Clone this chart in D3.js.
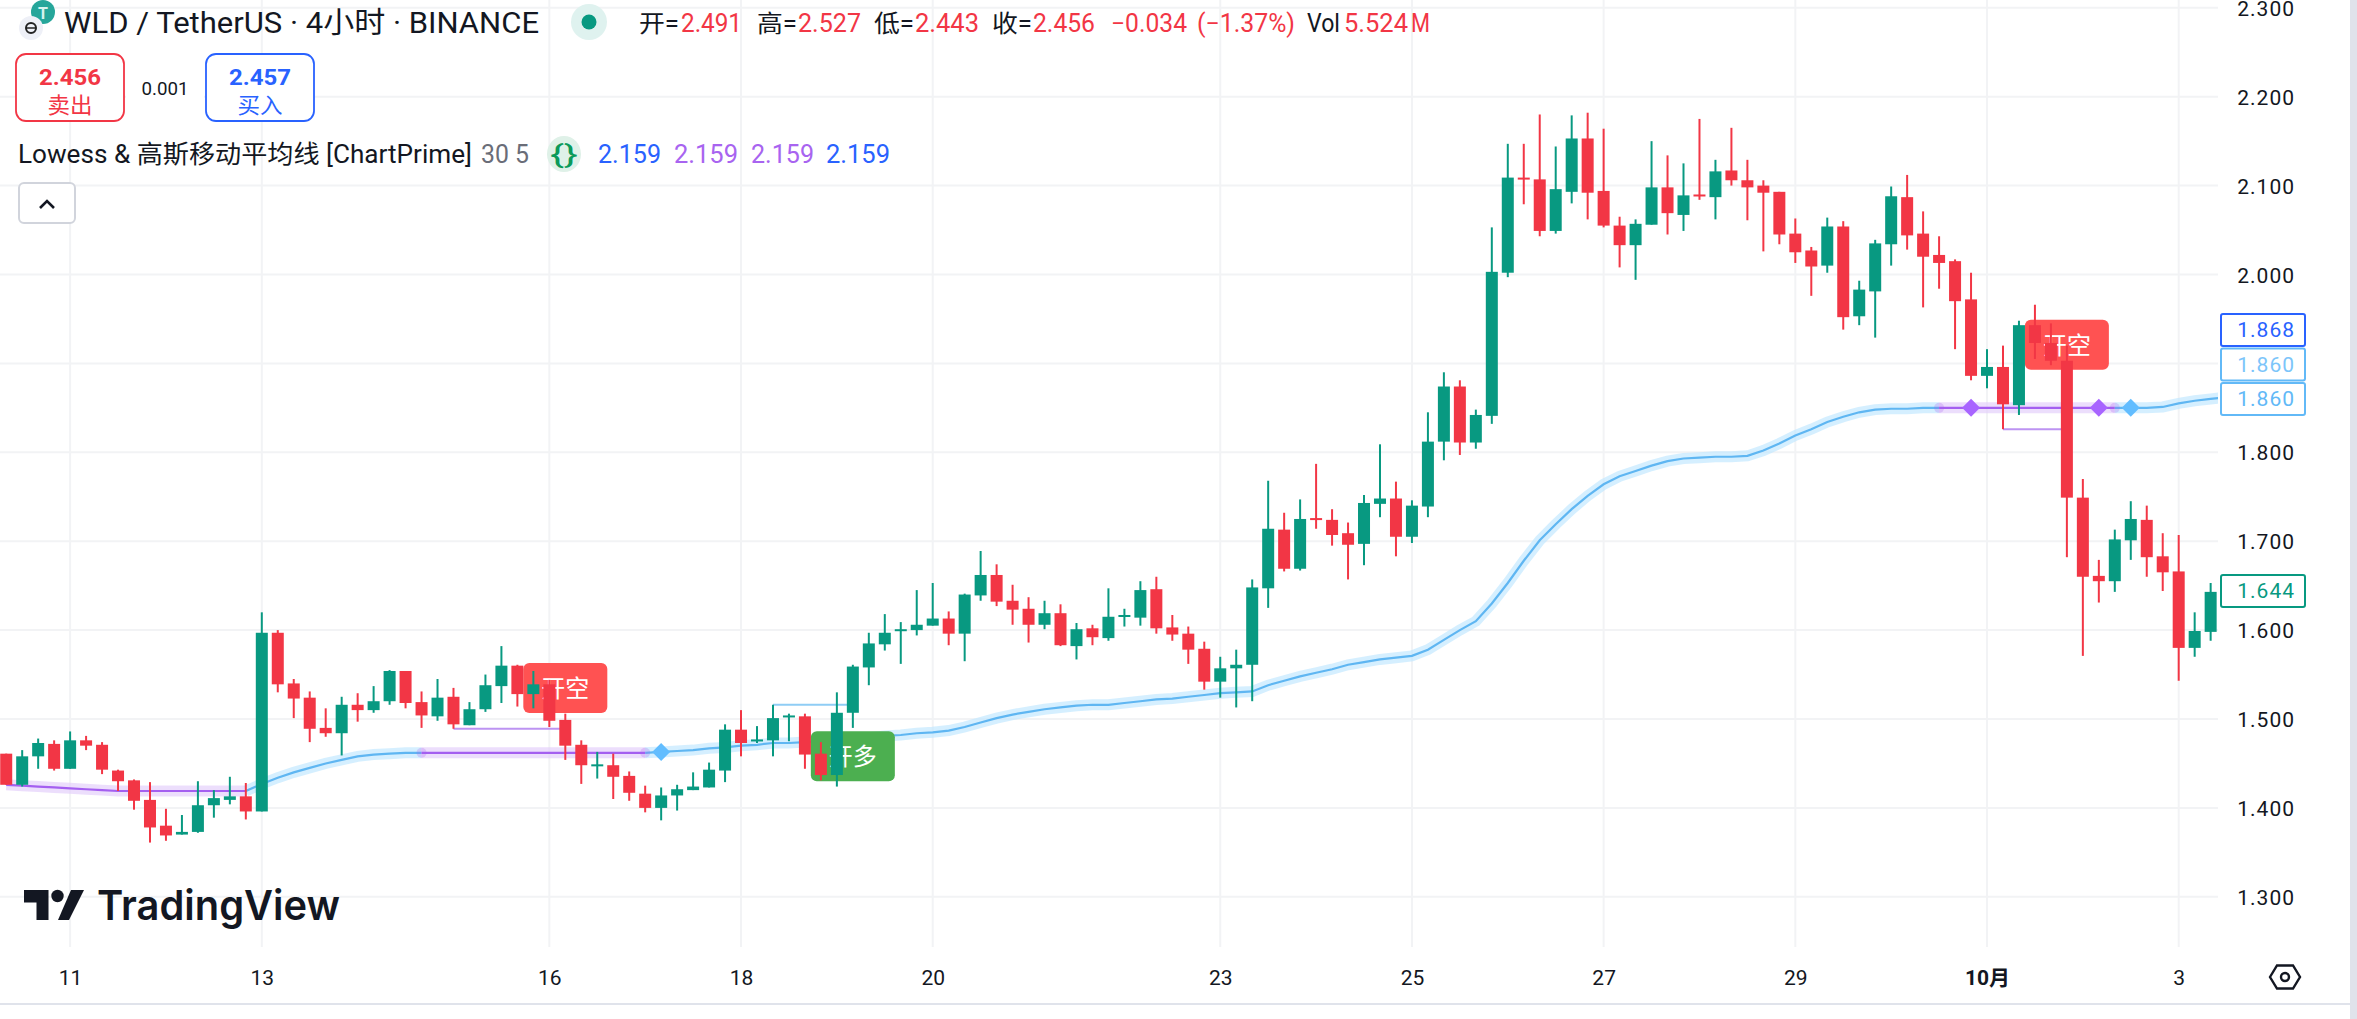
<!DOCTYPE html>
<html>
<head>
<meta charset="utf-8">
<title>WLD / TetherUS 4小时</title>
<script src="https://d3js.org/d3.v7.min.js"></script>
<style>
    html, body { margin: 0; padding: 0; background: #fff; overflow: hidden; }
    svg { display: block; }
    text { font-family: Roboto, "Noto Sans CJK SC", sans-serif; }
    .axis-text text { fill: #131722; font-size: 21px; letter-spacing: 1px; }
</style>
</head>
<body>
<svg width="2357" height="1019"></svg>
<script>
// candles, 4h bars, bar 0 = the 13th 00:00
var firstBar = -16;
var opens = [
    1.461,1.426,1.458,1.472,1.444,1.476,1.471,1.442,1.431,1.409,
    1.380,1.370,1.373,1.403,1.409,1.413,1.396,1.597,1.540,1.524,
    1.490,1.484,1.516,1.510,1.520,1.554,1.519,1.503,1.525,1.493,
    1.511,1.537,1.560,1.528,1.539,1.499,1.471,1.448,1.448,1.436,
    1.416,1.400,1.414,1.420,1.423,1.442,1.488,1.475,1.476,1.502,
    1.503,1.461,1.437,1.507,1.558,1.584,1.599,1.600,1.605,1.613,
    1.596,1.639,1.662,1.633,1.624,1.606,1.619,1.582,1.602,1.591,
    1.615,1.614,1.646,1.603,1.596,1.579,1.542,1.557,1.561,1.647,
    1.713,1.669,1.726,1.724,1.709,1.697,1.742,1.748,1.705,1.739,
    1.812,1.874,1.811,1.841,2.002,2.109,2.107,2.049,2.093,2.153,
    2.094,2.055,2.033,2.056,2.098,2.067,2.090,2.087,2.117,2.106,
    2.100,2.093,2.046,2.027,2.010,2.054,1.953,1.981,2.034,2.087,
    2.046,2.022,2.015,1.972,1.886,1.896,1.853,1.943,1.923,1.903,
    1.749,1.661,1.655,1.701,1.724,1.683,1.666,1.580,1.598
];
var closes = [
    1.426,1.458,1.473,1.444,1.476,1.470,1.443,1.430,1.408,1.378,
    1.369,1.373,1.403,1.411,1.413,1.396,1.597,1.539,1.523,1.489,
    1.484,1.516,1.510,1.520,1.554,1.518,1.504,1.524,1.494,1.511,
    1.538,1.560,1.528,1.539,1.498,1.470,1.448,1.449,1.435,1.417,
    1.400,1.414,1.421,1.424,1.443,1.488,1.473,1.477,1.501,1.504,
    1.460,1.437,1.507,1.559,1.585,1.597,1.601,1.606,1.613,1.596,
    1.640,1.662,1.632,1.623,1.606,1.619,1.583,1.601,1.592,1.615,
    1.617,1.645,1.602,1.595,1.578,1.542,1.557,1.561,1.648,1.714,
    1.669,1.725,1.725,1.707,1.696,1.743,1.748,1.705,1.740,1.812,
    1.874,1.811,1.842,2.003,2.109,2.107,2.049,2.096,2.153,2.092,
    2.055,2.033,2.057,2.098,2.069,2.089,2.088,2.116,2.106,2.098,
    2.092,2.045,2.025,2.009,2.054,1.952,1.983,2.035,2.088,2.044,
    2.020,2.013,1.970,1.886,1.896,1.854,1.943,1.923,1.903,1.749,
    1.660,1.655,1.702,1.725,1.682,1.665,1.580,1.599,1.643
];
var highs = [
    1.461,1.465,1.478,1.476,1.486,1.481,1.474,1.443,1.432,1.429,
    1.399,1.392,1.430,1.420,1.435,1.428,1.620,1.600,1.545,1.531,
    1.512,1.525,1.529,1.537,1.555,1.554,1.531,1.545,1.535,1.519,
    1.550,1.582,1.561,1.554,1.544,1.506,1.476,1.463,1.461,1.441,
    1.425,1.423,1.426,1.440,1.451,1.494,1.510,1.492,1.516,1.506,
    1.506,1.474,1.530,1.561,1.597,1.618,1.609,1.645,1.653,1.621,
    1.641,1.689,1.674,1.651,1.637,1.633,1.629,1.608,1.606,1.647,
    1.624,1.655,1.660,1.617,1.604,1.587,1.570,1.578,1.657,1.768,
    1.732,1.747,1.787,1.736,1.721,1.752,1.809,1.767,1.746,1.845,
    1.890,1.881,1.848,2.053,2.147,2.147,2.180,2.144,2.179,2.182,
    2.164,2.065,2.062,2.150,2.134,2.125,2.175,2.129,2.165,2.129,
    2.106,2.093,2.063,2.031,2.064,2.060,1.993,2.039,2.099,2.112,
    2.071,2.043,2.017,2.002,1.916,1.920,1.948,1.966,1.945,1.920,
    1.770,1.679,1.713,1.745,1.740,1.709,1.707,1.620,1.653
];
var lows = [
    1.426,1.424,1.444,1.442,1.444,1.465,1.438,1.419,1.398,1.361,
    1.363,1.370,1.372,1.389,1.404,1.387,1.396,1.530,1.501,1.474,
    1.480,1.459,1.497,1.507,1.516,1.512,1.490,1.498,1.489,1.493,
    1.508,1.518,1.514,1.512,1.491,1.454,1.427,1.433,1.410,1.408,
    1.395,1.386,1.397,1.420,1.423,1.429,1.458,1.473,1.458,1.475,
    1.444,1.431,1.424,1.490,1.538,1.577,1.562,1.594,1.605,1.583,
    1.565,1.633,1.627,1.606,1.586,1.601,1.582,1.567,1.583,1.588,
    1.604,1.605,1.596,1.588,1.562,1.533,1.524,1.513,1.520,1.625,
    1.666,1.667,1.714,1.695,1.657,1.673,1.727,1.683,1.698,1.727,
    1.791,1.797,1.804,1.832,1.997,2.079,2.043,2.046,2.080,2.062,
    2.053,2.008,1.994,2.056,2.045,2.049,2.084,2.062,2.100,2.061,
    2.026,2.034,2.013,1.976,2.002,1.938,1.943,1.929,2.010,2.028,
    1.963,1.984,1.916,1.881,1.872,1.826,1.842,1.905,1.898,1.682,
    1.571,1.631,1.643,1.679,1.660,1.644,1.543,1.570,1.588
];
// Lowess / gaussian average, one value per bar from firstBar on
var maValues = [
    1.426,1.425,1.424,1.423,1.422,1.421,1.420,1.419,1.419,1.419,
    1.419,1.419,1.419,1.419,1.419,1.419,1.427,1.434,1.440,1.445,
    1.450,1.454,1.458,1.460,1.461,1.462,1.462,1.462,1.462,1.462,
    1.462,1.462,1.462,1.462,1.462,1.462,1.462,1.462,1.462,1.462,
    1.462,1.463,1.464,1.465,1.467,1.468,1.470,1.471,1.473,1.473,
    1.474,1.475,1.476,1.478,1.479,1.481,1.482,1.484,1.485,1.487,
    1.491,1.496,1.501,1.505,1.508,1.511,1.513,1.515,1.516,1.516,
    1.518,1.520,1.522,1.523,1.525,1.527,1.529,1.530,1.531,1.538,
    1.543,1.548,1.552,1.556,1.561,1.564,1.567,1.569,1.571,1.578,
    1.589,1.600,1.610,1.630,1.653,1.678,1.701,1.719,1.736,1.751,
    1.764,1.773,1.779,1.785,1.790,1.793,1.794,1.795,1.795,1.796,
    1.802,1.810,1.819,1.826,1.834,1.840,1.845,1.848,1.849,1.849,
    1.850,1.850,1.850,1.850,1.850,1.850,1.850,1.850,1.850,1.850,
    1.850,1.850,1.850,1.850,1.850,1.851,1.855,1.858,1.860,1.862
];
// bar ranges where the average turns purple / blue
var maSegments = [
    {from: -16, to: -1, kind: "down"},
    {from: -1, to: 10, kind: "up"},
    {from: 10, to: 24, kind: "down"},
    {from: 24, to: 105, kind: "up"},
    {from: 105, to: 116, kind: "down"},
    {from: 116, to: 123, kind: "up"}
];
var dotMarks = [[0, 1.427, "up"], [10, 1.462, "down"], [24, 1.462, "down"], [105, 1.850, "down"], [113, 1.850, "up"], [116, 1.850, "down"]];
var diamondMarks = [[25, 1.463, "up"], [107, 1.850, "down"], [115, 1.850, "down"], [117, 1.850, "up"]];
var brackets = [[12, 19, 1.489, "down"], [32, 37, 1.516, "up"], [109, 113, 1.826, "down"]];
var signalBars = [19, 37, 113];
var signalPrices = [1.535, 1.458, 1.921];
var signalTexts = ["开空", "开多", "开空"];
var signalColors = ["#ff5252", "#4caf50", "#ff5252"];

var priceTicks = [1.3, 1.4, 1.5, 1.6, 1.7, 1.8, 1.9, 2.0, 2.1, 2.2, 2.3];
var timeTicks = [-12, 0, 18, 30, 42, 60, 72, 84, 96, 108, 120];
var timeLabels = ["11", "13", "16", "18", "20", "23", "25", "27", "29", "10月", "3"];

var width = 2357, plotRight = 2218, plotBottom = 947;
var green = "#089981", red = "#f23645", blue = "#2962ff";
var kindLine = {up: "#5fb6f2", down: "#a45ff0"};
var kindGlow = {up: "#bfe6ff", down: "#e2cdfb"};
var kindDiamond = {up: "#62bdff", down: "#a864ff"};

var svg = d3.select("svg");
var bars = d3.range(firstBar, firstBar + opens.length);

var x = d3.scaleLinear().domain([0, 120]).range([261.8, 2178.7]);
var y = d3.scaleLinear().domain([1.3, 2.3]).range([896.8, 7.8]);

svg.append("defs").append("clipPath").attr("id", "plot")
    .append("rect").attr("width", plotRight).attr("height", plotBottom);

// grid
svg.append("g").selectAll("line").data(priceTicks).enter().append("line")
    .attr("x1", 0).attr("x2", plotRight)
    .attr("y1", function (d) { return y(d); }).attr("y2", function (d) { return y(d); })
    .attr("stroke", "#f2f3f5").attr("stroke-width", 2);
svg.append("g").selectAll("line").data(timeTicks).enter().append("line")
    .attr("x1", function (d) { return x(d); }).attr("x2", function (d) { return x(d); })
    .attr("y1", 0).attr("y2", plotBottom)
    .attr("stroke", "#f2f3f5").attr("stroke-width", 2);

var plot = svg.append("g").attr("clip-path", "url(#plot)");

// moving average, glow under thin line
var maLine = d3.line()
    .x(function (d) { return x(d); })
    .y(function (d) { return y(maValues[d - firstBar]); });

maSegments.forEach(function (s) {
    plot.append("path").datum(d3.range(s.from, s.to + 1))
        .attr("d", maLine).attr("fill", "none")
        .attr("stroke", kindGlow[s.kind]).attr("stroke-opacity", 0.65).attr("stroke-width", 11);
});
maSegments.forEach(function (s) {
    plot.append("path").datum(d3.range(s.from, s.to + 1))
        .attr("d", maLine).attr("fill", "none")
        .attr("stroke", kindLine[s.kind]).attr("stroke-width", 2.2);
});

plot.selectAll(".dot").data(dotMarks).enter().append("circle")
    .attr("class", "dot")
    .attr("cx", function (d) { return x(d[0]); })
    .attr("cy", function (d) { return y(d[1]); })
    .attr("r", 5)
    .attr("fill", function (d) { return kindLine[d[2]]; })
    .attr("opacity", 0.25);

plot.selectAll(".bracket").data(brackets).enter().append("line")
    .attr("class", "bracket")
    .attr("x1", function (d) { return x(d[0]); })
    .attr("x2", function (d) { return x(d[1]); })
    .attr("y1", function (d) { return y(d[2]); })
    .attr("y2", function (d) { return y(d[2]); })
    .attr("stroke", function (d) { return d[3] == "up" ? "#8fcdf5" : "#bd93f2"; })
    .attr("stroke-width", 2);

plot.selectAll(".diamond").data(diamondMarks).enter().append("path")
    .attr("class", "diamond")
    .attr("d", "M0,-9L9,0L0,9L-9,0Z")
    .attr("transform", function (d) { return "translate(" + x(d[0]) + "," + y(d[1]) + ")"; })
    .attr("fill", function (d) { return kindDiamond[d[2]]; });

// signal labels sit under the candles
var signals = plot.selectAll(".signal").data(signalBars).enter().append("g")
    .attr("class", "signal")
    .attr("transform", function (d, i) { return "translate(" + x(d) + "," + y(signalPrices[i]) + ")"; });
signals.append("rect")
    .attr("x", -42).attr("y", -25).attr("width", 84).attr("height", 50).attr("rx", 6)
    .attr("fill", function (d, i) { return signalColors[i]; });
signals.append("text")
    .attr("text-anchor", "middle").attr("dy", 9)
    .attr("fill", "#fff").attr("font-size", 24)
    .style("font-family", '"Noto Sans CJK SC"')
    .text(function (d, i) { return signalTexts[i]; });

// candles
function barColor(d) {
    var i = d - firstBar;
    return closes[i] >= opens[i] ? green : red;
}
plot.selectAll(".wick").data(bars).enter().append("line")
    .attr("class", "wick")
    .attr("x1", function (d) { return x(d); })
    .attr("x2", function (d) { return x(d); })
    .attr("y1", function (d) { return y(highs[d - firstBar]); })
    .attr("y2", function (d) { return y(lows[d - firstBar]); })
    .attr("stroke", barColor).attr("stroke-width", 2);
plot.selectAll(".body").data(bars).enter().append("rect")
    .attr("class", "body")
    .attr("x", function (d) { return x(d) - 6; })
    .attr("width", 12)
    .attr("y", function (d) { return y(Math.max(opens[d - firstBar], closes[d - firstBar])); })
    .attr("height", function (d) {
        var i = d - firstBar;
        return Math.max(2, Math.abs(y(opens[i]) - y(closes[i])));
    })
    .attr("fill", barColor);

// price axis
svg.append("g").attr("class", "axis-text")
    .attr("transform", "translate(2280,0)")
    .call(d3.axisRight(y).tickValues(priceTicks).tickSize(0).tickPadding(0).tickFormat(d3.format(".3f")))
    .call(function (g) { g.select(".domain").remove(); })
    .selectAll("text").attr("text-anchor", "end").attr("x", 15).attr("dy", "0.36em");

// current price tags, the ones that collide get stacked upwards
var tagValues = ["1.868", "1.860", "1.860", "1.644"];
var tagColors = [blue, "#62b9f7", "#62b9f7", green];
var tagTextColors = [blue, "#7cc5fa", "#62b9f7", green];
var tagStack = [2, 1, 0, 0];
var tagPrice = [1.860, 1.860, 1.860, 1.644];
var tags = svg.append("g").selectAll("g").data(tagValues).enter().append("g")
    .attr("transform", function (d, i) { return "translate(2220," + (y(tagPrice[i]) - tagStack[i] * 34.5) + ")"; });
tags.append("rect")
    .attr("x", 1).attr("y", -16).attr("width", 84).attr("height", 32).attr("rx", 2)
    .attr("fill", "#fff")
    .attr("stroke", function (d, i) { return tagColors[i]; })
    .attr("stroke-width", 2);
tags.append("text")
    .attr("x", 75).attr("dy", 7.5).attr("text-anchor", "end")
    .attr("font-size", 21).attr("letter-spacing", 1)
    .attr("fill", function (d, i) { return tagTextColors[i]; })
    .text(function (d) { return d; });

// time axis
svg.append("g").attr("class", "axis-text")
    .attr("transform", "translate(0,977)")
    .call(d3.axisBottom(x).tickValues(timeTicks).tickSize(0).tickPadding(0)
        .tickFormat(function (d, i) { return timeLabels[i]; }))
    .call(function (g) { g.select(".domain").remove(); })
    .selectAll("text").attr("y", 0).attr("dy", "0.36em")
    .style("letter-spacing", "0")
    .style("font-weight", function (d) { return d == 108 ? 700 : 400; });

svg.append("path")
    .attr("d", "M2270,977L2277,965.5H2293L2300,977L2293,988.5H2277Z")
    .attr("fill", "none").attr("stroke", "#131722").attr("stroke-width", 2.4);
svg.append("circle").attr("cx", 2285).attr("cy", 977).attr("r", 4)
    .attr("fill", "none").attr("stroke", "#131722").attr("stroke-width", 2.4);

svg.append("rect").attr("x", 0).attr("y", 1003).attr("width", 2350).attr("height", 2).attr("fill", "#e0e3eb");
svg.append("rect").attr("x", 2350).attr("y", 0).attr("width", 7).attr("height", 1019).attr("fill", "#e0e3eb");

// header text helper, len forces the measured width
function label(txt, px, py, size, color, len, opts) {
    opts = opts || {};
    var t = svg.append("text")
        .attr("x", px).attr("y", py)
        .attr("font-size", size).attr("fill", color)
        .attr("text-anchor", opts.anchor || "start")
        .attr("font-weight", opts.weight || 400)
        .text(txt);
    if (len) t.attr("textLength", len).attr("lengthAdjust", "spacingAndGlyphs");
    return t;
}

// symbol icons
svg.append("circle").attr("cx", 43).attr("cy", 12).attr("r", 12).attr("fill", "#26a69a");
svg.append("text").attr("x", 43).attr("y", 19).attr("text-anchor", "middle")
    .attr("font-size", 16).attr("font-weight", 700).attr("fill", "#d7f3ee").text("T");
svg.append("circle").attr("cx", 31).attr("cy", 28).attr("r", 12).attr("fill", "#eef0f7");
svg.append("circle").attr("cx", 31).attr("cy", 28).attr("r", 5).attr("fill", "none").attr("stroke", "#222").attr("stroke-width", 2);
svg.append("line").attr("x1", 27).attr("x2", 35).attr("y1", 28).attr("y2", 28).attr("stroke", "#222").attr("stroke-width", 1.5);

label("WLD / TetherUS · 4小时 · BINANCE", 64, 33, 29, "#131722", 475);

svg.append("circle").attr("cx", 589).attr("cy", 22).attr("r", 18).attr("fill", "#dff2ef");
svg.append("circle").attr("cx", 589).attr("cy", 22).attr("r", 7.5).attr("fill", green);

// OHLC row
label("开=", 639, 32, 24, "#131722", 40);
label("2.491", 681, 32, 25, red, 61);
label("高=", 757, 32, 24, "#131722", 40);
label("2.527", 798, 32, 25, red, 63);
label("低=", 874, 32, 24, "#131722", 40);
label("2.443", 915, 32, 25, red, 64);
label("收=", 992, 32, 24, "#131722", 40);
label("2.456", 1033, 32, 25, red, 62);
label("−0.034", 1111, 32, 25, red, 76);
label("(−1.37%)", 1197, 32, 25, red, 98);
label("Vol", 1307, 32, 25, "#131722", 33);
label("5.524", 1344, 32, 25, red, 64);
label("M", 1411, 32, 25, red, 19);

// sell / buy buttons
svg.append("rect").attr("x", 16).attr("y", 54).attr("width", 108).attr("height", 67).attr("rx", 10)
    .attr("fill", "#fff").attr("stroke", red).attr("stroke-width", 1.8);
svg.append("rect").attr("x", 206).attr("y", 54).attr("width", 108).attr("height", 67).attr("rx", 10)
    .attr("fill", "#fff").attr("stroke", blue).attr("stroke-width", 1.8);
svg.append("rect").attr("x", 126).attr("y", 75).attr("width", 78).attr("height", 28).attr("fill", "#fff");
label("2.456", 70, 85, 22, red, 62, {anchor: "middle", weight: 700});
label("卖出", 70, 113, 22, red, 45, {anchor: "middle"});
label("0.001", 165, 95, 18, "#131722", 47, {anchor: "middle"});
label("2.457", 260, 85, 22, blue, 62, {anchor: "middle", weight: 700});
label("买入", 260, 113, 22, blue, 45, {anchor: "middle"});

// indicator row
label("Lowess & 高斯移动平均线 [ChartPrime]", 18, 163, 25, "#131722", 454);
label("30 5", 481, 163, 25, "#6a6d78", 48);
svg.append("ellipse").attr("cx", 564).attr("cy", 154).attr("rx", 17).attr("ry", 18).attr("fill", "#dff1e8");
label("{}", 564, 163, 26, "#0b9a5a", 28, {anchor: "middle"});
label("2.159", 598, 163, 25, blue, 63);
label("2.159", 674, 163, 25, "#a864f0", 64);
label("2.159", 751, 163, 25, "#a864f0", 63);
label("2.159", 826, 163, 25, blue, 64);

// collapse button
svg.append("rect").attr("x", 19).attr("y", 183).attr("width", 56).attr("height", 40).attr("rx", 5)
    .attr("fill", "#fff").attr("stroke", "#d1d4dc").attr("stroke-width", 2);
svg.append("path").attr("d", "M40,208L47,201L54,208").attr("fill", "none").attr("stroke", "#131722").attr("stroke-width", 2.6);

// TradingView logo
svg.append("path").attr("d", "M24,890H48.5V920H36.5V902.5H24Z").attr("fill", "#131722");
svg.append("circle").attr("cx", 57.5).attr("cy", 896).attr("r", 6.2).attr("fill", "#131722");
svg.append("path").attr("d", "M71,890H84L69,920H58Z").attr("fill", "#131722");
label("TradingView", 97, 920, 41, "#131722", 243, {weight: 600}).style("font-family", "Inter, Roboto, sans-serif");
</script>
</body>
</html>
